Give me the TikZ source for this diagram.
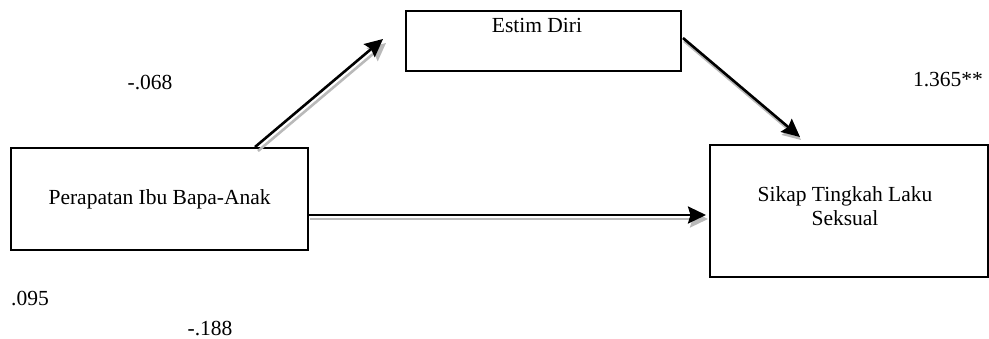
\documentclass[tikz,border=0pt]{standalone}
\usepackage{fontspec}
\setmainfont{Liberation Serif}
\usetikzlibrary{arrows.meta}
\definecolor{shadowgray}{RGB}{185,185,185}
\begin{document}
\begin{tikzpicture}[x=1pt,y=-1pt,
  every node/.style={font=\fontsize{21.5}{24}\selectfont, inner sep=0pt},
  varbox/.style={draw=black, line width=2.2pt, fill=white},
  mainarrow/.style={draw=black, line width=2.6pt, -{Stealth[length=18pt,width=17pt,inset=2.5pt]}},
  shadowarrow/.style={draw=shadowgray, line width=2.6pt, -{Stealth[length=18pt,width=17pt,inset=2.5pt]}},
  lbl/.style={anchor=center}]
\useasboundingbox (0,0) rectangle (989,338);
% boxes
\node[varbox, minimum width=275pt, minimum height=60pt, anchor=north west] (E) at (405,10) {};
\node (Et) at (537,25) {Estim Diri};
\node[varbox, minimum width=297pt, minimum height=102pt, anchor=north west] (P) at (10,147) {Perapatan Ibu Bapa-Anak};
\node[varbox, minimum width=278pt, minimum height=132pt, anchor=north west] (S) at (709,144) {};
\node[align=center] (St) at (845,206) {Sikap Tingkah Laku\\Seksual};
% connector end points
\coordinate (a1s) at (255,147);
\coordinate (a1e) at (383,39);
\coordinate (a2s) at (683,38);
\coordinate (a2e) at (800,137);
\coordinate (a3s) at (308,215);
\coordinate (a3e) at (706,215);
% shadows
\draw[shadowarrow] ([shift={(3,4)}]a1s) -- ([shift={(3,4)}]a1e);
\draw[shadowarrow] ([shift={(1,3)}]a2s) -- ([shift={(1,3)}]a2e);
\draw[shadowarrow] ([shift={(2,4)}]a3s) -- ([shift={(2,4)}]a3e);
% arrows
\draw[mainarrow] (a1s) -- (a1e);
\draw[mainarrow] (a2s) -- (a2e);
\draw[mainarrow] (a3s) -- (a3e);
% coefficients
\node[lbl] (c1) at (150,82) {-.068};
\node[lbl] (c2) at (948,80) {1.365**};
\node[lbl] (c3) at (30,298) {.095};
\node[lbl] (c4) at (210,328) {-.188};
\end{tikzpicture}
\end{document}
